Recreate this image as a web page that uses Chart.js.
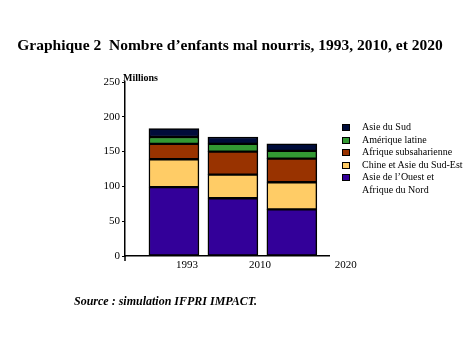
<!DOCTYPE html>
<html>
<head>
<meta charset="utf-8">
<script src="https://cdn.jsdelivr.net/npm/chart.js@4"></script>
<style>
  body { margin: 0; background: #fff; }
  .wrap { position: relative; width: 469px; height: 352px; font-family: "Liberation Serif", serif; color: #000; }
  .wrap canvas { position: absolute; left: 0; top: 0; }
  .title { position: absolute; left: 0; width: 460px; top: 36px; text-align: center; font-weight: bold; font-size: 15.5px; white-space: pre; }
  .unit { position: absolute; left: 123px; top: 72px; font-weight: bold; font-size: 10px; }
  .legend { position: absolute; left: 342px; top: 121px; font-size: 10px; line-height: 12.5px; }
  .legend div { position: relative; padding-left: 20px; height: 12.5px; white-space: nowrap; }
  .legend span { position: absolute; left: 0; top: 3px; width: 6px; height: 5px; border: 1px solid #000; }
  .source { position: absolute; left: 74px; top: 294px; font-weight: bold; font-style: italic; font-size: 12px; }
</style>
</head>
<body>
<div class="wrap">
  <canvas id="chart" width="469" height="352"></canvas>
  <div class="title">Graphique 2  Nombre d’enfants mal nourris, 1993, 2010, et 2020</div>
  <div class="unit">Millions</div>
  <div class="legend" id="legend"></div>
  <div class="source">Source : simulation IFPRI IMPACT.</div>
</div>
<script>
// DATA
let years = ["1993", "2010", "2020"];
let regions = ["Asie de l’Ouest et Afrique du Nord", "Chine et Asie du Sud-Est", "Afrique subsaharienne", "Amérique latine", "Asie du Sud"];
let ouestNord = [99, 83, 67];
let chineSudEst = [40, 34, 39];
let subsaharienne = [22, 33, 34];
let ameriqueLatine = [10, 11, 11];
let asieSud = [12, 10, 10];
let yTicks = [0, 50, 100, 150, 200, 250];

let colors = ["#330099", "#ffcc66", "#993300", "#339933", "#000c3a"];
let series = [ouestNord, chineSudEst, subsaharienne, ameriqueLatine, asieSud];

// year labels sit to the right of the bars in the original
let labelShift = [13, 27, 54];

// LEGEND (top to bottom, reverse of stack order)
let legend = document.getElementById("legend");
for (let i = regions.length - 1; i >= 0; i--) {
  let row = document.createElement("div");
  row.innerHTML = '<span style="background:' + colors[i] + '"></span>' + regions[i].replace(" et Afrique", " et<br>Afrique");
  legend.appendChild(row);
}

Chart.defaults.font.family = "Liberation Serif";
Chart.defaults.font.size = 11;
Chart.defaults.color = "#000";

let yearLabels = {
  id: "yearLabels",
  afterDraw(chart) {
    let ctx = chart.ctx;
    let xs = chart.scales.x;
    let area = chart.chartArea;
    ctx.save();
    // little tick where the y axis crosses the baseline
    ctx.strokeStyle = "#000";
    ctx.lineWidth = 1.5;
    ctx.beginPath();
    ctx.moveTo(area.left, area.bottom);
    ctx.lineTo(area.left, area.bottom + 5);
    ctx.stroke();
    ctx.font = "11px 'Liberation Serif'";
    ctx.fillStyle = "#000";
    ctx.textAlign = "center";
    ctx.textBaseline = "middle";
    years.forEach((y, i) => {
      ctx.fillText(y, xs.getPixelForValue(i) + labelShift[i], area.bottom + 9);
    });
    ctx.restore();
  },
};

new Chart(document.getElementById("chart"), {
  type: "bar",
  data: {
    datasets: series.map((s, k) => ({
      label: regions[k],
      data: s.map((v, i) => ({ x: i, y: v })),
      backgroundColor: colors[k],
      borderColor: "#000",
      borderWidth: 1.5,
      borderSkipped: false,
      barThickness: 50,
    })),
  },
  plugins: [yearLabels],
  options: {
    responsive: false,
    animation: false,
    layout: { padding: { left: 100, right: 140, top: 82, bottom: 86 } },
    plugins: { legend: { display: false }, tooltip: { enabled: false } },
    scales: {
      x: {
        type: "linear",
        stacked: true,
        offset: false,
        min: -0.83,
        max: 2.63,
        ticks: { display: false },
        grid: { display: false, offset: false },
        border: { display: true, color: "#000", width: 1.5 },
        afterFit: (s) => { s.height = 10; },
      },
      y: {
        stacked: true,
        min: 0,
        max: 250,
        afterBuildTicks: (s) => { s.ticks = yTicks.map((v) => ({ value: v })); },
        ticks: { padding: 2, font: { size: 11 } },
        grid: { drawOnChartArea: false, tickLength: 3, color: "#000" },
        border: { display: true, color: "#000", width: 1.5 },
        afterFit: (s) => { s.width = 25; },
      },
    },
  },
});
</script>
</body>
</html>
